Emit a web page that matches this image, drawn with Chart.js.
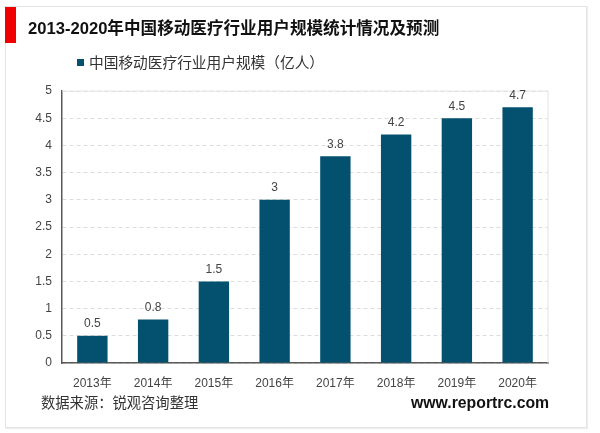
<!DOCTYPE html>
<html>
<head>
<meta charset="utf-8">
<script src="https://cdn.jsdelivr.net/npm/chart.js@4"></script>
<style>
  html, body { margin: 0; padding: 0; background: #fff; width: 600px; height: 433px; overflow: hidden; }
  body { font-family: "Liberation Sans", "Noto Sans CJK SC", sans-serif; position: relative; }
  #chart { position: absolute; left: 0; top: 0; }
  .frame { position: absolute; left: 5px; top: 6px; width: 580px; height: 420px; border: 1px solid #e4e4e4; box-shadow: 1px 1px 1px #eee; }
  .redbar { position: absolute; left: 5px; top: 7px; width: 11px; height: 36px; background: #f00000; }
  .txt { position: absolute; white-space: nowrap; }
  #title { left: 28px; top: 19px; font-size: 16.6px; line-height: 20px; font-weight: bold; color: #111; }
  #legend { left: 77px; top: 54px; font-size: 14.7px; line-height: 18px; color: #333; }
  #legend i { display: inline-block; width: 7px; height: 7px; background: #03506f; margin-right: 5px; vertical-align: 2px; }
  #source { left: 41px; top: 394px; font-size: 14.3px; line-height: 18px; color: #333; }
  #site { left: 411px; top: 394px; font-size: 15.8px; line-height: 18px; font-weight: bold; color: #111; font-family: "Liberation Sans", sans-serif; }
</style>
</head>
<body>
<div class="frame"></div>
<div class="redbar"></div>
<canvas id="chart" width="600" height="433"></canvas>
<div class="txt" id="title"></div>
<div class="txt" id="legend"><i></i><span id="legendText"></span></div>
<div class="txt" id="source"></div>
<div class="txt" id="site"></div>
<script>
const chartTitle = '2013-2020年中国移动医疗行业用户规模统计情况及预测';
const seriesName = '中国移动医疗行业用户规模（亿人）';
const sourceNote = '数据来源：锐观咨询整理';
const siteName = 'www.reportrc.com';
const years = ['2013年', '2014年', '2015年', '2016年', '2017年', '2018年', '2019年', '2020年'];
const users = [0.5, 0.8, 1.5, 3, 3.8, 4.2, 4.5, 4.7];

document.getElementById('title').textContent = chartTitle;
document.getElementById('legendText').textContent = seriesName;
document.getElementById('source').textContent = sourceNote;
document.getElementById('site').textContent = siteName;

const fontFamily = '"Liberation Sans", "Noto Sans CJK SC", sans-serif';

// light solid edge along the top and right of the plot
const plotEdge = {
  id: 'plotEdge',
  beforeDatasetsDraw(chart) {
    const { ctx, chartArea: a } = chart;
    ctx.save();
    ctx.strokeStyle = '#e4e4e4';
    ctx.lineWidth = 1;
    ctx.beginPath();
    ctx.moveTo(a.left, a.top);
    ctx.lineTo(a.right, a.top);
    ctx.lineTo(a.right, a.bottom);
    ctx.stroke();
    ctx.restore();
  }
};

// value labels above the bars
const barLabels = {
  id: 'barLabels',
  afterDatasetsDraw(chart) {
    const ctx = chart.ctx;
    ctx.save();
    ctx.font = '12px ' + fontFamily;
    ctx.fillStyle = '#444';
    ctx.textAlign = 'center';
    ctx.textBaseline = 'bottom';
    chart.getDatasetMeta(0).data.forEach((bar, i) => {
      ctx.fillText(users[i], bar.x, bar.y - 6);
    });
    ctx.restore();
  }
};

new Chart(document.getElementById('chart'), {
  type: 'bar',
  data: {
    labels: years,
    datasets: [{
      label: seriesName,
      data: users,
      backgroundColor: '#03506f',
      categoryPercentage: 0.5,
      barPercentage: 1
    }]
  },
  options: {
    responsive: false,
    animation: false,
    layout: { padding: { left: 0, right: 52, top: 91, bottom: 40 } },
    plugins: { legend: { display: false }, tooltip: { enabled: false } },
    scales: {
      x: {
        afterFit: (scale) => { scale.height = 30; },
        grid: { display: false, drawTicks: false },
        border: { color: '#595959', width: 1.5 },
        ticks: { color: '#444', font: { size: 12, family: fontFamily }, padding: 13, maxRotation: 0 }
      },
      y: {
        min: 0,
        max: 5,
        afterFit: (scale) => { scale.width = 62; },
        grid: { color: '#dcdcdc', drawTicks: false },
        border: { color: '#595959', width: 1.5, dash: [4, 3] },
        ticks: { stepSize: 0.5, color: '#444', font: { size: 12, family: fontFamily }, padding: 10, callback: (v) => String(v) }
      }
    }
  },
  plugins: [plotEdge, barLabels]
});
</script>
</body>
</html>
